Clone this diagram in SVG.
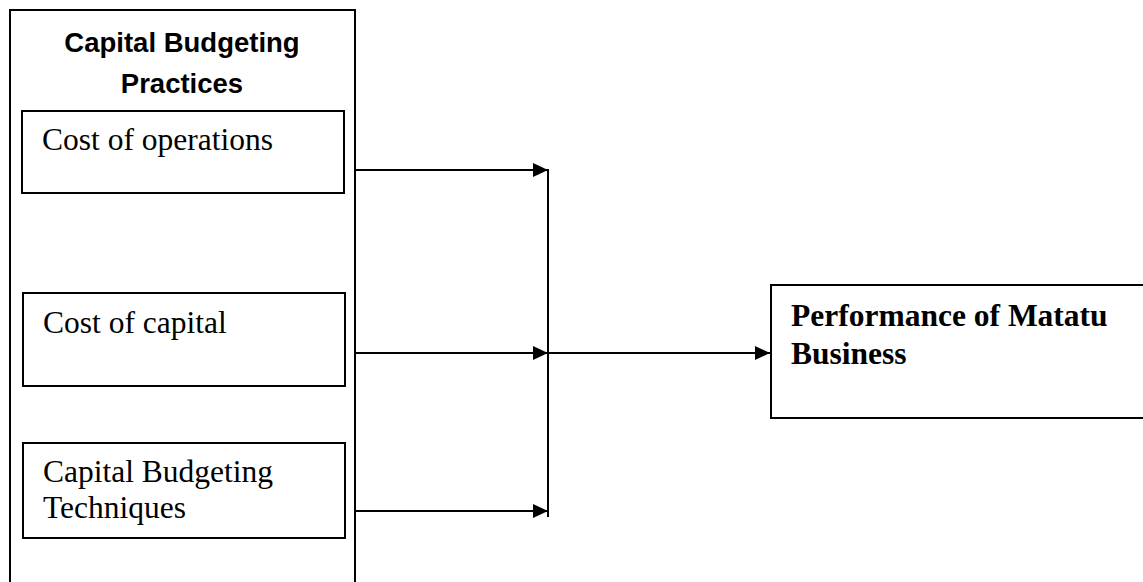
<svg xmlns="http://www.w3.org/2000/svg" width="1143" height="582" viewBox="0 0 1143 582">
<style>
.box{fill:#fff;stroke:#000;stroke-width:2}
.hdr{font-family:"Liberation Sans",Arial,sans-serif;font-weight:bold;font-size:27.5px;text-anchor:middle}
.t{font-family:"Liberation Serif","Times New Roman",serif;font-size:31.5px}
.tb{font-family:"Liberation Serif","Times New Roman",serif;font-size:31.5px;font-weight:bold}
.c{stroke:#000;stroke-width:2;fill:none}
</style>
<defs>
<marker id="ah" markerUnits="userSpaceOnUse" markerWidth="16" markerHeight="14" refX="15" refY="7" orient="auto">
<path d="M0,0 L15,7 L0,14 Z" fill="#000"/>
</marker>
</defs>
<rect width="1143" height="582" fill="#fff"/>
<g id="practices">
<rect class="box" x="10" y="10" width="345" height="580"/>
<text class="hdr" x="182" y="52">Capital Budgeting</text>
<text class="hdr" x="182" y="93">Practices</text>
</g>
<g id="cost-operations">
<rect class="box" x="22" y="111" width="322" height="82"/>
<text class="t" x="42" y="150">Cost of operations</text>
</g>
<g id="cost-capital">
<rect class="box" x="23" y="293" width="322" height="93"/>
<text class="t" x="43" y="333">Cost of capital</text>
</g>
<g id="techniques">
<rect class="box" x="23" y="443" width="322" height="95"/>
<text class="t" x="43" y="482">Capital Budgeting</text>
<text class="t" x="43" y="518">Techniques</text>
</g>
<g id="performance">
<rect class="box" x="771" y="285" width="380" height="133"/>
<text class="tb" x="791" y="326">Performance of Matatu</text>
<text class="tb" x="791" y="364">Business</text>
</g>
<g id="connectors">
<line class="c" x1="356" y1="170" x2="548" y2="170" marker-end="url(#ah)"/>
<line class="c" x1="356" y1="353" x2="548" y2="353" marker-end="url(#ah)"/>
<line class="c" x1="356" y1="511" x2="548" y2="511" marker-end="url(#ah)"/>
<line class="c" x1="548" y1="169" x2="548" y2="517"/>
<line class="c" x1="548" y1="353" x2="770" y2="353" marker-end="url(#ah)"/>
</g>
</svg>
